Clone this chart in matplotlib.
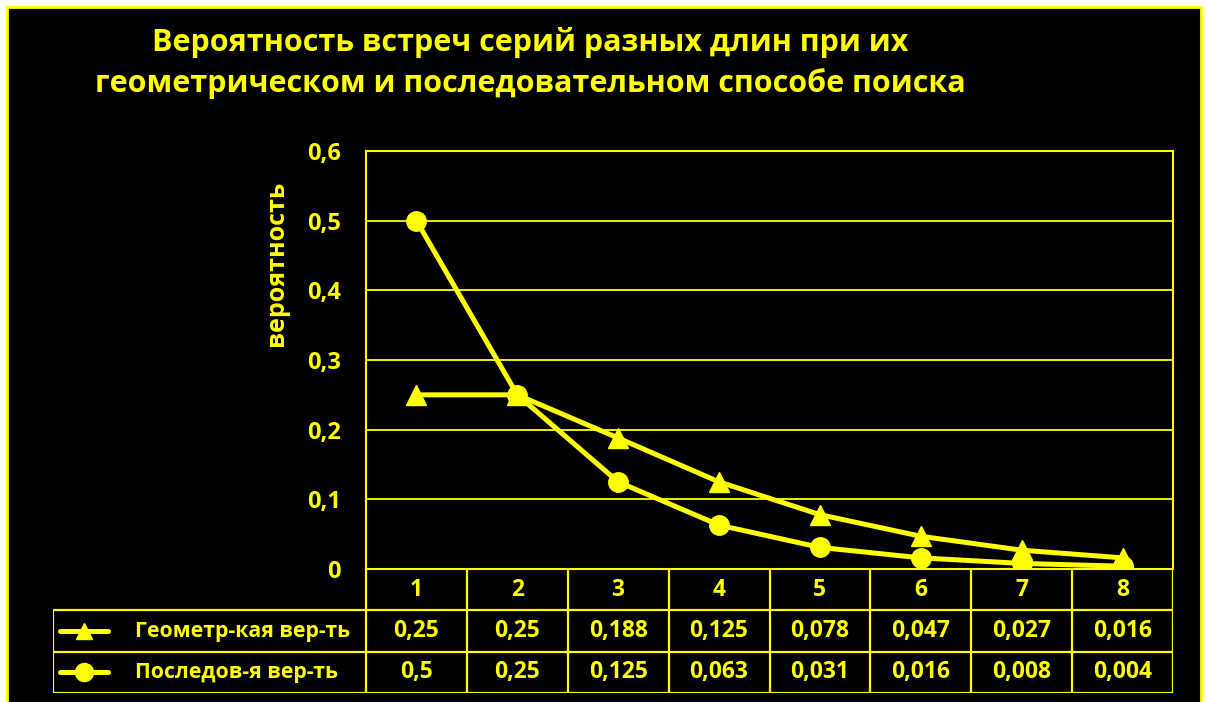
import matplotlib
matplotlib.use('Agg')
import matplotlib.pyplot as plt
from matplotlib.patches import Rectangle
from matplotlib.ticker import FuncFormatter

plt.rcParams['font.family'] = ['Open Sans', 'DejaVu Sans']
plt.rcParams['font.weight'] = 'bold'

YEL = '#ffff00'

categories = [1, 2, 3, 4, 5, 6, 7, 8]
geom = [0.25, 0.25, 0.188, 0.125, 0.078, 0.047, 0.027, 0.016]
seq = [0.5, 0.25, 0.125, 0.063, 0.031, 0.016, 0.008, 0.004]
series_names = ['Геометр-кая вер-ть', 'Последов-я вер-ть']
title = 'Вероятность встреч серий разных длин при их\nгеометрическом и последовательном способе поиска'
ylabel = 'вероятность'


def fmt(v):
    return str(v).replace('.', ',')


fig = plt.figure(figsize=(12.07, 7.02), dpi=100, facecolor='white')
# black chart area with yellow frame
fig.patches.append(Rectangle((7 / 1207, -0.05), 1194 / 1207, (702 - 7) / 702 + 0.05,
                             transform=fig.transFigure, facecolor='black',
                             edgecolor=YEL, linewidth=2, zorder=-10))

fig.text(0.439, 0.91, title, ha='center', va='center', color=YEL,
         fontsize=22, fontweight='bold', linespacing=1.4)

ax = fig.add_axes([366 / 1207, 133 / 702, 807 / 1207, 418 / 702])
ax.set_facecolor('black')
ax.plot(categories, geom, color=YEL, lw=3.6, marker='^', ms=14, zorder=3)
ax.plot(categories, seq, color=YEL, lw=3.6, marker='o', ms=14, zorder=4)
ax.set_xlim(0.5, 8.5)
ax.set_ylim(0, 0.6)
ax.set_yticks([0, 0.1, 0.2, 0.3, 0.4, 0.5, 0.6])
ax.yaxis.set_major_formatter(FuncFormatter(lambda v, p: '0' if v == 0 else fmt(round(v, 1))))
ax.set_xticks([])
ax.tick_params(axis='y', length=0, pad=18, labelcolor=YEL, labelsize=17)
for lbl in ax.get_yticklabels():
    lbl.set_fontweight('bold')
ax.grid(axis='y', color=YEL, lw=1.3)
for s in ax.spines.values():
    s.set_color(YEL)
    s.set_linewidth(1.5)
ax.set_ylabel(ylabel, color=YEL, fontsize=18, fontweight='bold')
ax.yaxis.set_label_coords(-0.095, 0.732)

# data table below the plot
tx0 = 0.5 - (366 - 53) / 100.875
tab = fig.add_axes([53 / 1207, 9 / 702, 1120 / 1207, 124 / 702])
tab.set_xlim(tx0, 8.5)
tab.set_ylim(3, 0)
tab.axis('off')
lk = dict(color=YEL, lw=1.6, solid_capstyle='butt')
for x in [c - 0.5 for c in categories] + [8.5]:
    tab.plot([x, x], [0, 3], **lk)
tab.plot([tx0, tx0], [1, 3], **lk)
for y in [1, 2, 3]:
    tab.plot([tx0, 8.5], [y, y], **lk)

for c in categories:
    tab.text(c, 0.5, str(c), ha='center', va='center', color=YEL, fontsize=16.5, fontweight='bold')
for row, (vals, name, mk) in enumerate(zip([geom, seq], series_names, ['^', 'o'])):
    yc = row + 1.5
    for c, v in zip(categories, vals):
        tab.text(c, yc, fmt(v), ha='center', va='center', color=YEL, fontsize=16.5, fontweight='bold')
    kx0 = 0.5 - (366 - 60) / 100.875
    kx1 = 0.5 - (366 - 108) / 100.875
    tab.plot([kx0, kx1], [yc, yc], color=YEL, lw=3.6, solid_capstyle='round')
    tab.plot([(kx0 + kx1) / 2], [yc], marker=mk, color=YEL, ms=12 if mk == '^' else 13)
    tab.text(0.5 - (366 - 135) / 100.875, yc, name, ha='left', va='center', color=YEL,
             fontsize=15.3, fontweight='bold')

fig.savefig('out.png', dpi=100, facecolor='white')
